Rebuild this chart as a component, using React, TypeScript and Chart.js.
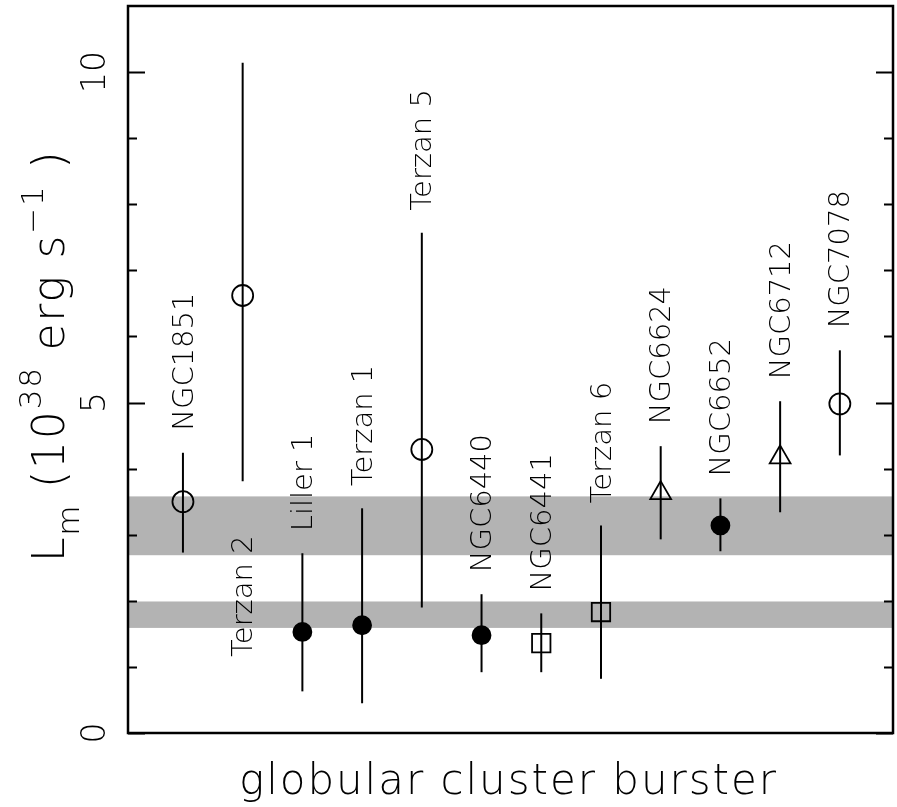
import React, { useEffect, useRef } from 'react';
import { Chart, registerables } from 'chart.js';

Chart.register(...registerables);

// ---- data ----
const clusters = ['NGC1851', 'Terzan 2', 'Liller 1', 'Terzan 1', 'Terzan 5', 'NGC6440', 'NGC6441', 'Terzan 6', 'NGC6624', 'NGC6652', 'NGC6712', 'NGC7078'];
const lm = [3.50, 6.62, 1.53, 1.63, 4.29, 1.48, 1.36, 1.83, 3.63, 3.14, 4.17, 4.98];
const lmHigh = [4.24, 10.14, 2.72, 3.40, 7.57, 2.10, 1.81, 3.14, 4.34, 3.55, 5.02, 5.79];
const lmLow = [2.73, 3.81, 0.63, 0.45, 1.90, 0.92, 0.92, 0.82, 2.93, 2.75, 3.34, 4.20];
const markers = ['openCircle', 'openCircle', 'filledCircle', 'filledCircle', 'openCircle', 'filledCircle', 'openSquare', 'openSquare', 'openTriangle', 'filledCircle', 'openTriangle', 'openCircle'];
// explicit label start (in L_m units) where the label is not just above the bar
const labelStart: (number | null)[] = [null, 1.15, null, null, null, null, null, null, null, null, null, null];
const bandLow = [2.69, 1.59];
const bandHigh = [3.58, 1.99];
const yMajorTicks = [0, 5, 10];
const yMinorTicks = [1, 2, 3, 4, 6, 7, 8, 9];
const xTitle = 'globular cluster burster';

const FONT = '"DejaVu Sans", "Liberation Sans", Arial, sans-serif';
const W = '200';

function styleOf(m: string) {
  if (m.includes('Circle')) return 'circle';
  if (m.includes('Square')) return 'rect';
  return 'triangle';
}
function radiusOf(m: string) {
  if (m === 'filledCircle') return 9;
  if (m === 'openCircle') return 10.5;
  if (m === 'openSquare') return 13;
  return 12;
}

function fitText(ctx: CanvasRenderingContext2D, text: string, x: number, y: number, target: number) {
  (ctx as any).letterSpacing = '0px';
  const w0 = ctx.measureText(text).width;
  const n = Math.max(1, text.length - 1);
  const ls = Math.max(-2, (target - w0) / n);
  (ctx as any).letterSpacing = `${ls}px`;
  ctx.fillText(text, x, y);
  (ctx as any).letterSpacing = '0px';
}

const decorPlugin = {
  id: 'decor',
  beforeDatasetsDraw(chart: any) {
    const { ctx, chartArea, scales } = chart;
    const { left, right } = chartArea;
    const y = scales.y;
    const x = scales.x;
    ctx.save();
    ctx.fillStyle = '#b3b3b3';
    bandLow.forEach((lo, i) => {
      const yTop = y.getPixelForValue(bandHigh[i]);
      const yBot = y.getPixelForValue(lo);
      ctx.fillRect(left, yTop, right - left, yBot - yTop);
    });
    ctx.strokeStyle = '#000';
    ctx.lineWidth = 2;
    clusters.forEach((_, i) => {
      const px = x.getPixelForValue(i + 1);
      ctx.beginPath();
      ctx.moveTo(px, y.getPixelForValue(lmLow[i]));
      ctx.lineTo(px, y.getPixelForValue(lmHigh[i]));
      ctx.stroke();
    });
    ctx.restore();
  },
  afterDatasetsDraw(chart: any) {
    const { ctx, chartArea, scales } = chart;
    const { left, right, top, bottom } = chartArea;
    const y = scales.y;
    const x = scales.x;
    ctx.save();
    ctx.strokeStyle = '#000';
    ctx.fillStyle = '#000';
    // frame
    ctx.lineWidth = 2.5;
    ctx.strokeRect(left, top, right - left, bottom - top);
    // ticks
    ctx.lineWidth = 2;
    const tick = (v: number, len: number) => {
      const py = Math.round(y.getPixelForValue(v)) + 0.5;
      ctx.beginPath();
      ctx.moveTo(left, py);
      ctx.lineTo(left + len, py);
      ctx.moveTo(right, py);
      ctx.lineTo(right - len, py);
      ctx.stroke();
    };
    yMajorTicks.forEach((v) => tick(v, 17));
    yMinorTicks.forEach((v) => tick(v, 9));
    // tick labels (rotated)
    ctx.font = `${W} 33px ${FONT}`;
    ctx.textAlign = 'center';
    ctx.textBaseline = 'alphabetic';
    yMajorTicks.forEach((v) => {
      ctx.save();
      ctx.translate(left - 23, y.getPixelForValue(v));
      ctx.rotate(-Math.PI / 2);
      ctx.fillText(String(v), 0, 0);
      ctx.restore();
    });
    // cluster labels
    const lf = 29;
    ctx.font = `${W} ${lf}px ${FONT}`;
    ctx.textAlign = 'left';
    clusters.forEach((name, i) => {
      const px = x.getPixelForValue(i + 1);
      const ls = labelStart[i];
      const start = ls != null ? y.getPixelForValue(ls) : y.getPixelForValue(lmHigh[i]) - 22;
      ctx.save();
      ctx.translate(px + lf * 0.73 / 2 - 1, start);
      ctx.rotate(-Math.PI / 2);
      ctx.fillText(name, 0, 0);
      ctx.restore();
    });
    // x title
    ctx.font = `${W} 42px ${FONT}`;
    ctx.textAlign = 'left';
    fitText(ctx, xTitle, left + 111, bottom + 61, 537);
    // y title (rich text, rotated)
    ctx.save();
    ctx.translate(64, 562);
    ctx.rotate(-Math.PI / 2);
    ctx.textAlign = 'left';
    (ctx as any).letterSpacing = '1.8px';
    const pieces = [
      { t: 'L', s: 44, dy: 0 },
      { t: 'm', s: 31, dy: 15 },
      { t: ' (10', s: 44, dy: 0 },
      { t: '38', s: 31, dy: -23 },
      { t: ' erg s', s: 44, dy: 0 },
      { t: '\u22121', s: 31, dy: -21 },
      { t: ' )', s: 44, dy: 0 },
    ];
    let cx = 0;
    pieces.forEach((p) => {
      ctx.font = `${W} ${p.s}px ${FONT}`;
      ctx.fillText(p.t, cx, p.dy);
      cx += ctx.measureText(p.t).width;
    });
    ctx.restore();
    ctx.restore();
  },
};

export default function App() {
  const ref = useRef<HTMLCanvasElement>(null);
  useEffect(() => {
    const chart = new Chart(ref.current as HTMLCanvasElement, {
      type: 'scatter',
      data: {
        datasets: [
          {
            data: clusters.map((_, i) => ({ x: i + 1, y: lm[i] })),
            pointStyle: markers.map(styleOf) as any,
            pointRadius: markers.map(radiusOf),
            pointHoverRadius: markers.map(radiusOf),
            pointBackgroundColor: markers.map((m) => (m.startsWith('filled') ? '#000' : 'rgba(0,0,0,0)')),
            pointBorderColor: '#000',
            pointBorderWidth: 1.8,
            showLine: false,
          },
        ],
      },
      options: {
        animation: false,
        responsive: false,
        events: [],
        layout: { autoPadding: false, padding: { left: 128, top: 6, right: 4, bottom: 74 } },
        scales: {
          x: { type: 'linear', min: 0.08, max: 12.89, display: false },
          y: { type: 'linear', min: 0, max: 11, display: false },
        },
        plugins: { legend: { display: false }, tooltip: { enabled: false } },
      },
      plugins: [decorPlugin],
    });
    return () => chart.destroy();
  }, []);
  return (
    <div style={{ position: 'fixed', left: 0, top: 0, width: 897, height: 807, background: '#fff' }}>
      <canvas ref={ref} width={897} height={807} style={{ display: 'block', width: 897, height: 807 }} />
    </div>
  );
}
